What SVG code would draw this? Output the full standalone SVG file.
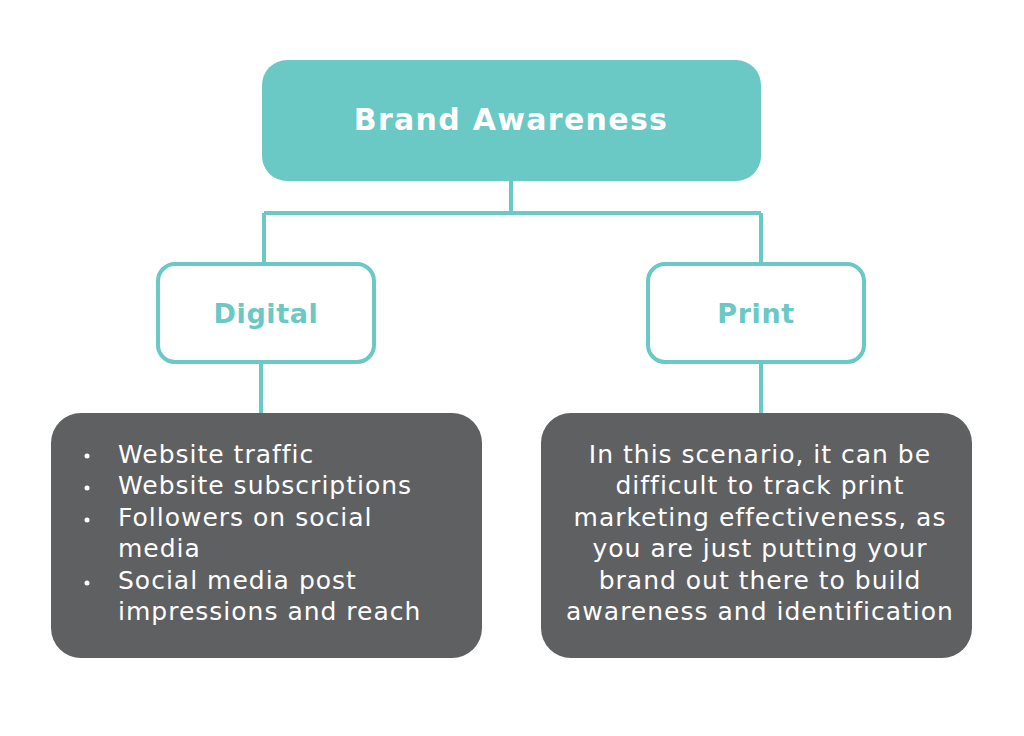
<svg xmlns="http://www.w3.org/2000/svg" width="1024" height="736" viewBox="0 0 1024 736">
<style>
.conn{fill:none;stroke:#6ac8c5;stroke-width:4}
.mid{fill:#fff;stroke:#6ac8c5;stroke-width:4}
.dark{fill:#5f6062}
.title{font-family:"DejaVu Sans",sans-serif;font-weight:bold;fill:#fff;font-size:30px;letter-spacing:1.3px;text-anchor:middle}
.sub{font-family:"DejaVu Sans",sans-serif;font-weight:bold;fill:#6ac8c5;font-size:27px;letter-spacing:0.6px;text-anchor:middle}
.body{font-family:"DejaVu Sans",sans-serif;fill:#fff;font-size:25px;letter-spacing:1px}
</style>
<rect width="1024" height="736" fill="#fff"/>
<g id="connectors">
<path class="conn" d="M511 181V213M264 213H761M264 213V263M761 213V263M261 363V413M761 363V413"/>
</g>
<g id="brand">
<rect x="262" y="60" width="499" height="121" rx="25" fill="#6ac8c5"/>
<text class="title" x="511" y="130">Brand Awareness</text>
</g>
<g id="digital">
<rect class="mid" x="158" y="264" width="216" height="98" rx="17"/>
<text class="sub" x="266" y="323">Digital</text>
</g>
<g id="print">
<rect class="mid" x="648" y="264" width="216" height="98" rx="17"/>
<text class="sub" x="756" y="323">Print</text>
</g>
<g id="digital-list">
<rect class="dark" x="51" y="413" width="431" height="245" rx="30"/>
<g class="body">
<circle cx="87" cy="456" r="2.5" fill="#fff"/>
<circle cx="87" cy="488" r="2.5" fill="#fff"/>
<circle cx="87" cy="520" r="2.5" fill="#fff"/>
<circle cx="87" cy="583" r="2.5" fill="#fff"/>
<text x="118" y="463">Website traffic</text>
<text x="118" y="494">Website subscriptions</text>
<text x="118" y="526">Followers on social</text>
<text x="118" y="557">media</text>
<text x="118" y="589">Social media post</text>
<text x="118" y="620">impressions and reach</text>
</g>
</g>
<g id="print-text">
<rect class="dark" x="541" y="413" width="431" height="245" rx="30"/>
<g class="body" text-anchor="middle">
<text x="760" y="463">In this scenario, it can be</text>
<text x="760" y="494">difficult to track print</text>
<text x="760" y="526">marketing effectiveness, as</text>
<text x="760" y="557">you are just putting your</text>
<text x="760" y="589">brand out there to build</text>
<text x="760" y="620">awareness and identification</text>
</g>
</g>
</svg>
